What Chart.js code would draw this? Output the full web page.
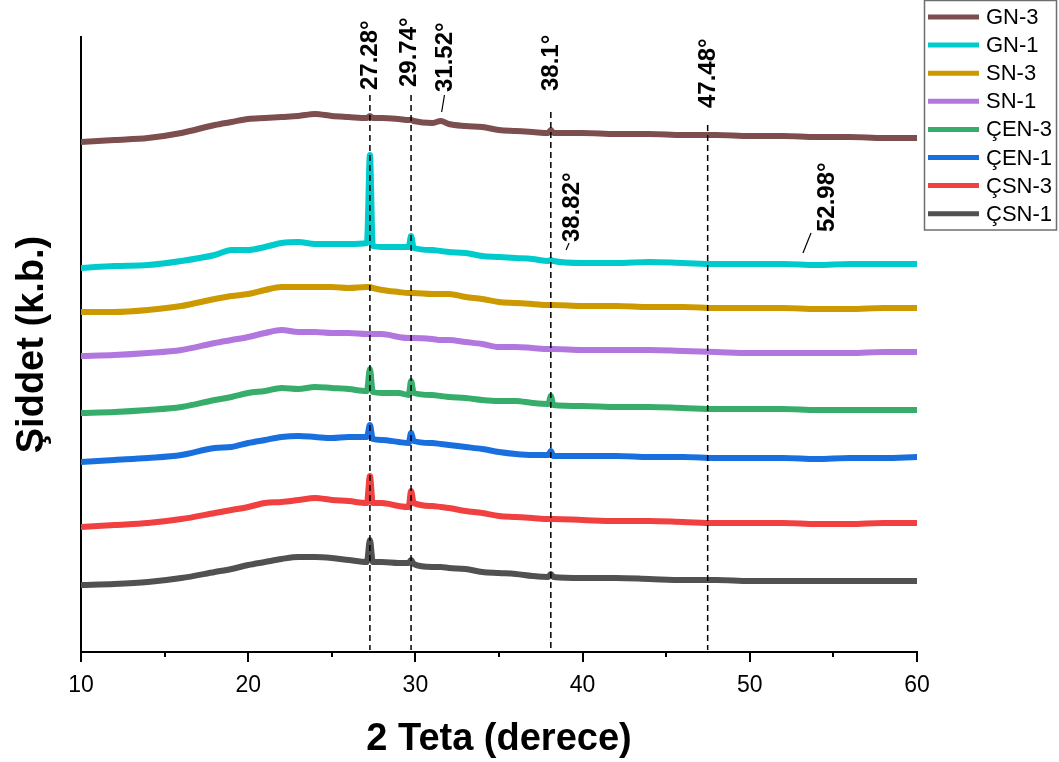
<!DOCTYPE html>
<html>
<head>
<meta charset="utf-8">
<script src="https://cdn.jsdelivr.net/npm/chart.js@4.4.1/dist/chart.umd.min.js"></script>
<style>
  html, body { margin: 0; padding: 0; background: #fff; }
  #wrap { width: 1059px; height: 762px; }
</style>
</head>
<body>
<div id="wrap"><canvas id="xrd" width="1059" height="762"></canvas></div>
<script>
// 2 teta (degree) sampling points, shared by all patterns
const teta = [10, 12, 14, 16, 18, 19, 20, 21, 22, 23, 24, 25, 26, 27.1, 27.28, 27.45, 28, 29, 29.6, 29.74,
  29.9, 31, 31.52, 32, 33, 34, 35, 36, 37, 37.95, 38.1, 38.25, 40, 42, 44, 46, 48, 50, 52, 54, 56, 58, 60];

// intensities (a.u., already stacked with offsets as in the figure)
const gn3 = [510, 512, 514, 519, 527, 530, 533, 534, 535, 536, 538, 536, 535, 534, 536, 534, 534, 533, 532, 532,
  531, 529, 531, 528, 526, 525, 522, 521, 520, 519, 522, 519, 519, 518, 518, 517, 517, 516, 516, 515, 515, 514, 514];
const gn1 = [384, 386, 387, 391, 397, 402, 402, 405, 409, 410, 408, 408, 408, 409, 497, 406, 405, 405, 405, 416,
  404, 402, 401, 400, 399, 396, 395, 394, 393, 391, 392, 391, 389, 389, 390, 389, 388, 388, 388, 387, 388, 388, 388];
const sn3 = [340, 340, 342, 346, 353, 356, 358, 362, 365, 365, 365, 365, 364, 365, 365, 364, 362, 360, 359, 359,
  359, 358, 358, 358, 355, 353, 350, 349, 348, 347, 347, 347, 346, 346, 345, 345, 344, 344, 344, 343, 343, 344, 344];
const sn1 = [296, 297, 299, 302, 309, 312, 315, 319, 322, 320, 320, 319, 319, 318, 318, 318, 318, 315, 314, 314,
  314, 313, 312, 312, 310, 308, 305, 305, 304, 303, 303, 303, 302, 302, 302, 301, 300, 299, 299, 299, 299, 300, 300];
const cen3 = [239, 240, 242, 245, 252, 255, 259, 261, 264, 263, 265, 264, 263, 261, 283, 260, 259, 259, 257, 271,
  259, 257, 256, 255, 254, 252, 251, 251, 249, 248, 256, 247, 246, 245, 245, 244, 243, 243, 243, 242, 242, 242, 242];
const cen1 = [190, 192, 194, 197, 204, 205, 209, 212, 215, 216, 215, 214, 215, 215, 227, 213, 212, 210, 209, 219,
  211, 209, 208, 207, 205, 203, 200, 198, 197, 197, 201, 196, 196, 196, 195, 195, 194, 194, 194, 193, 194, 194, 195];
const csn3 = [125, 127, 129, 133, 139, 142, 145, 149, 150, 152, 154, 152, 151, 149, 176, 149, 149, 146, 145, 161,
  149, 146, 145, 144, 141, 139, 136, 135, 134, 133, 133, 133, 132, 131, 131, 130, 129, 129, 129, 128, 128, 129, 129];
const csn1 = [67, 68, 70, 74, 80, 83, 87, 90, 93, 95, 95, 94, 92, 90, 112, 90, 90, 89, 89, 92,
  88, 85, 85, 84, 83, 80, 79, 78, 76, 75, 78, 75, 74, 74, 73, 72, 72, 71, 71, 71, 71, 71, 71];

const seriesNames = ['GN-3', 'GN-1', 'SN-3', 'SN-1', 'ÇEN-3', 'ÇEN-1', 'ÇSN-3', 'ÇSN-1'];
const seriesValues = [gn3, gn1, sn3, sn1, cen3, cen1, csn3, csn1];
const seriesColors = ['#7D4E4E', '#00CBCC', '#CC9900', '#B177DE', '#37AD6B', '#1A6FDF', '#F14040', '#515151'];

const xTicks = [10, 20, 30, 40, 50, 60];
const minorTicks = [15, 25, 35, 45, 55];
const peakLines = [27.28, 29.74, 38.1, 47.48];
const peakTexts = ['27.28°', '29.74°', '31.52°', '38.1°', '38.82°', '47.48°', '52.98°'];

const FONT = "Arial, 'Liberation Sans', sans-serif";

// where the marks sit (in axis units)
const lineTops = [557, 557, 540, 527];
const labelSpots = [
  {x: 27.28, y: 562},
  {x: 29.62, y: 565},
  {x: 31.77, y: 560, lead: [31.74, 557, 31.57, 540]},
  {x: 38.11, y: 561},
  {x: 39.37, y: 410, lead: [39.19, 409, 39.01, 402]},
  {x: 47.5, y: 544},
  {x: 54.62, y: 420, lead: [53.66, 419, 53.18, 399]},
];

const peakMarks = {
  id: 'peakMarks',
  afterDatasetsDraw(chart) {
    const {ctx, scales: {x, y}} = chart;
    ctx.save();
    ctx.strokeStyle = '#000';
    ctx.lineWidth = 2;
    minorTicks.forEach(v => {
      const px = Math.round(x.getPixelForValue(v));
      ctx.beginPath();
      ctx.moveTo(px, y.bottom);
      ctx.lineTo(px, y.bottom + 5);
      ctx.stroke();
    });

    ctx.lineWidth = 1.5;
    ctx.setLineDash([6, 4]);
    peakLines.forEach((v, i) => {
      const px = x.getPixelForValue(v);
      ctx.beginPath();
      ctx.moveTo(px, y.getPixelForValue(lineTops[i]));
      ctx.lineTo(px, y.bottom - 2);
      ctx.stroke();
    });
    ctx.setLineDash([]);

    ctx.lineWidth = 1.2;
    ctx.fillStyle = '#000';
    ctx.font = 'bold 24px ' + FONT;
    ctx.textAlign = 'left';
    ctx.textBaseline = 'middle';
    peakTexts.forEach((t, i) => {
      const s = labelSpots[i];
      if (s.lead) {
        ctx.beginPath();
        ctx.moveTo(x.getPixelForValue(s.lead[0]), y.getPixelForValue(s.lead[1]));
        ctx.lineTo(x.getPixelForValue(s.lead[2]), y.getPixelForValue(s.lead[3]));
        ctx.stroke();
      }
      ctx.save();
      ctx.translate(x.getPixelForValue(s.x), y.getPixelForValue(s.y));
      ctx.rotate(-Math.PI / 2);
      ctx.fillText(t, 0, 0);
      ctx.restore();
    });
    ctx.restore();
  }
};

const boxLegend = {
  id: 'boxLegend',
  afterDraw(chart) {
    const ctx = chart.ctx;
    ctx.save();
    ctx.strokeStyle = '#6e6e6e';
    ctx.lineWidth = 1.5;
    ctx.strokeRect(924.5, 0.5, 132, 229.5);
    ctx.font = '22px ' + FONT;
    ctx.textBaseline = 'middle';
    ctx.fillStyle = '#000';
    chart.data.datasets.forEach((ds, i) => {
      const cy = 17 + i * 28.1;
      ctx.strokeStyle = ds.borderColor;
      ctx.lineWidth = 5;
      ctx.beginPath();
      ctx.moveTo(928, cy);
      ctx.lineTo(979, cy);
      ctx.stroke();
      ctx.fillText(ds.label, 986, cy + 1);
    });
    ctx.restore();
  }
};

new Chart(document.getElementById('xrd'), {
  type: 'line',
  data: {
    datasets: seriesNames.map((name, i) => ({
      label: name,
      data: teta.map((t, k) => ({x: t, y: seriesValues[i][k]})),
      borderColor: seriesColors[i],
      backgroundColor: seriesColors[i],
      borderWidth: 6,
      pointRadius: 0,
      cubicInterpolationMode: 'monotone',
      borderJoinStyle: 'round',
      borderCapStyle: 'round',
      fill: false,
    }))
  },
  options: {
    responsive: false,
    animation: false,
    layout: { padding: { left: 0, right: 142, top: 37, bottom: 0 } },
    plugins: { legend: { display: false }, tooltip: { enabled: false } },
    scales: {
      x: {
        type: 'linear',
        min: 10,
        max: 60,
        afterBuildTicks: s => { s.ticks = xTicks.map(v => ({value: v})); },
        ticks: { font: { family: FONT, size: 23 }, color: '#000', padding: 10, maxRotation: 0 },
        grid: { drawOnChartArea: false, drawTicks: true, tickLength: 10, color: '#000', lineWidth: 2 },
        border: { display: true, color: '#000', width: 2 },
        title: {
          display: true, text: '2 Teta (derece)', color: '#000',
          font: { family: FONT, size: 38, weight: 'bold' }, padding: { top: 0, bottom: 0 }
        },
        afterFit: s => { s.height = 110; }
      },
      y: {
        min: 0,
        max: 615,
        ticks: { display: false },
        grid: { display: false },
        border: { display: true, color: '#000', width: 2 },
        title: {
          display: true, text: 'Şiddet (k.b.)', color: '#000',
          font: { family: FONT, size: 38, weight: 'bold' }, padding: { top: 10, bottom: 0 }
        },
        afterFit: s => { s.width = 81; }
      }
    }
  },
  plugins: [peakMarks, boxLegend]
});
</script>
</body>
</html>
